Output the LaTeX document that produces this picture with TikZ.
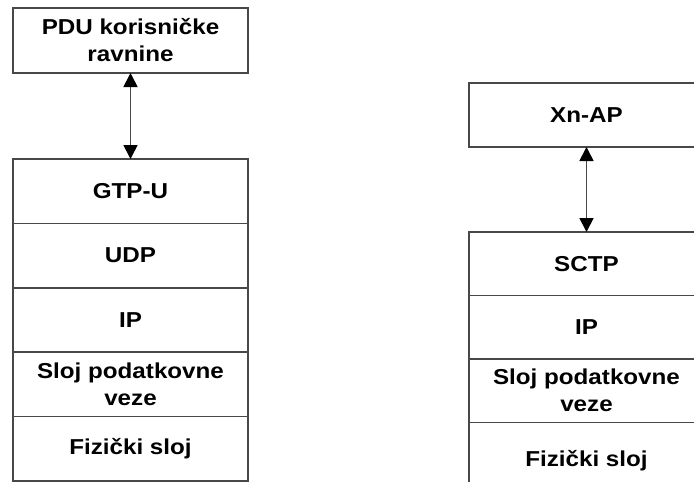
\documentclass[tikz,border=0pt]{standalone}
\usepackage{fontspec}
\setmainfont{Liberation Sans}[FakeStretch=1.12]
\usetikzlibrary{positioning,arrows.meta}
\definecolor{linegray}{RGB}{72,72,72}
\begin{document}
\begin{tikzpicture}[x=1pt, y=-1pt, node distance=0pt,
    layer/.style={draw=linegray, line width=1.7pt, rectangle, outer sep=0pt, inner sep=0pt,
        minimum width=235pt, minimum height=64.4pt, align=center,
        font=\fontsize{21.6}{27}\selectfont\bfseries},
    link/.style={draw=linegray, line width=1.8pt,
        {Triangle[length=14pt,width=14pt,color=black]}-{Triangle[length=14pt,width=14pt,color=black]}}]
    \useasboundingbox (0,0) rectangle (694,482);
    \clip (0,0) rectangle (694,482);

    % user plane stack
    \node[layer, minimum height=65pt] (pdu) at (130.5,40.5) {PDU korisničke\\ravnine};
    \node[layer, below=86pt of pdu] (gtpu) {GTP-U};
    \node[layer, below=of gtpu] (udp) {UDP};
    \node[layer, below=of udp] (ipl) {IP};
    \node[layer, below=of ipl] (dlinkl) {Sloj podatkovne\\veze};
    \node[layer, below=of dlinkl] (physl) {Fizički sloj};
    \draw[link] (pdu) -- (gtpu);

    % control plane stack
    \node[layer, minimum height=64pt] (xnap) at (586.5,115) {Xn-AP};
    \node[layer, minimum height=63.5pt, below=85pt of xnap] (sctp) {SCTP};
    \node[layer, minimum height=63.5pt, below=of sctp] (ipr) {IP};
    \node[layer, minimum height=63.5pt, below=of ipr] (dlinkr) {Sloj podatkovne\\veze};
    \node[layer, minimum height=76pt, below=of dlinkr] (physr) {Fizički sloj};
    \draw[link] (xnap) -- (sctp);
\end{tikzpicture}
\end{document}
